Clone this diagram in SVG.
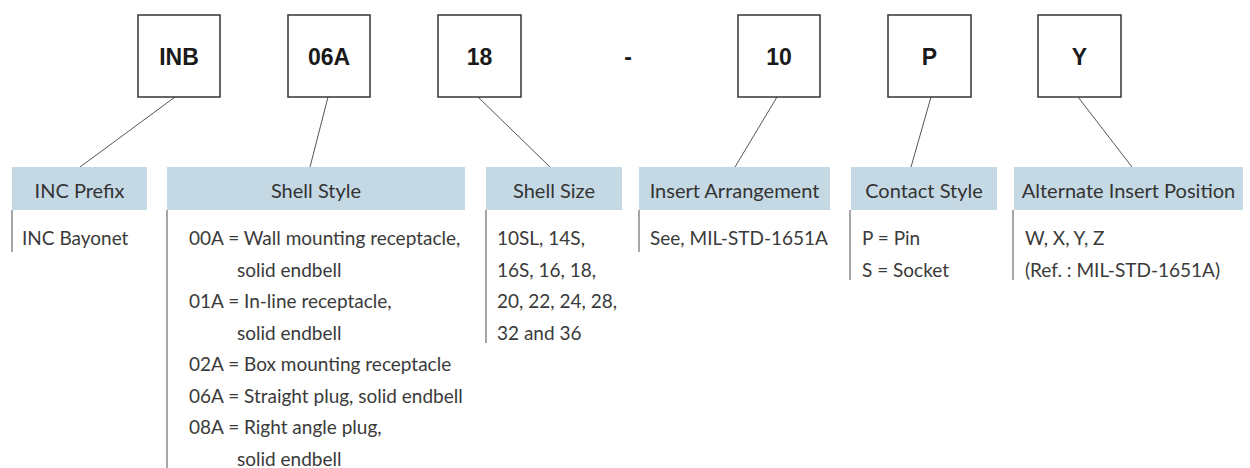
<svg xmlns="http://www.w3.org/2000/svg" width="1250" height="468" viewBox="0 0 1250 468">
<style>
.box{fill:#fff;stroke:#333;stroke-width:1.5}
.code{font-family:"Liberation Sans",Arial,sans-serif;font-weight:bold;font-size:23px;fill:#1a1a1a;text-anchor:middle}
.hdr{fill:#c5d9e5}
.ht{font-family:Lato,"Open Sans",sans-serif;font-size:20px;fill:#333;text-anchor:middle}
.bt{font-family:Lato,"Open Sans",sans-serif;font-size:19px;fill:#3a3a3a}
.bar{stroke:#888;stroke-width:1.5}
.conn line{stroke:#555;stroke-width:1}
</style>
<rect width="1250" height="468" fill="#fff"/>
<g class="conn">
<line x1="175" y1="97" x2="80" y2="167"/>
<line x1="328" y1="97" x2="310" y2="167"/>
<line x1="478" y1="97" x2="550" y2="167"/>
<line x1="777" y1="97" x2="735" y2="167"/>
<line x1="931" y1="97" x2="911" y2="167"/>
<line x1="1078" y1="97" x2="1132" y2="167"/>
</g>
<g id="box-inb"><rect class="box" x="138" y="15" width="82" height="82"/><text class="code" x="179" y="65">INB</text></g>
<g id="box-06a"><rect class="box" x="288" y="15" width="82" height="82"/><text class="code" x="329" y="65">06A</text></g>
<g id="box-18"><rect class="box" x="438" y="15" width="83" height="82"/><text class="code" x="479.5" y="65">18</text></g>
<g id="dash"><text class="code" x="628" y="65">-</text></g>
<g id="box-10"><rect class="box" x="738" y="15" width="82" height="82"/><text class="code" x="779" y="65">10</text></g>
<g id="box-p"><rect class="box" x="888" y="15" width="83" height="82"/><text class="code" x="929.5" y="65">P</text></g>
<g id="box-y"><rect class="box" x="1038" y="15" width="83" height="82"/><text class="code" x="1079.5" y="65">Y</text></g>

<g id="col-prefix">
<rect class="hdr" x="12" y="167" width="135" height="43"/>
<text class="ht" x="79.5" y="198">INC Prefix</text>
<line class="bar" x1="12" y1="210" x2="12" y2="252"/>
<text class="bt" x="22" y="245">INC Bayonet</text>
</g>
<g id="col-shellstyle">
<rect class="hdr" x="167" y="167" width="298" height="43"/>
<text class="ht" x="316" y="198">Shell Style</text>
<line class="bar" x1="167" y1="210" x2="167" y2="468"/>
<text class="bt" x="189" y="245">00A = Wall mounting receptacle,</text>
<text class="bt" x="237" y="276.5">solid endbell</text>
<text class="bt" x="189" y="308">01A = In-line receptacle,</text>
<text class="bt" x="237" y="339.5">solid endbell</text>
<text class="bt" x="189" y="371">02A = Box mounting receptacle</text>
<text class="bt" x="189" y="402.5">06A = Straight plug, solid endbell</text>
<text class="bt" x="189" y="434">08A = Right angle plug,</text>
<text class="bt" x="237" y="465.5">solid endbell</text>
</g>
<g id="col-shellsize">
<rect class="hdr" x="486" y="167" width="136" height="43"/>
<text class="ht" x="554" y="198">Shell Size</text>
<line class="bar" x1="486" y1="210" x2="486" y2="343"/>
<text class="bt" x="497" y="245">10SL, 14S,</text>
<text class="bt" x="497" y="276.5">16S, 16, 18,</text>
<text class="bt" x="497" y="308">20, 22, 24, 28,</text>
<text class="bt" x="497" y="339.5">32 and 36</text>
</g>
<g id="col-insert">
<rect class="hdr" x="639" y="167" width="191" height="43"/>
<text class="ht" x="734.5" y="198">Insert Arrangement</text>
<line class="bar" x1="639" y1="210" x2="639" y2="252"/>
<text class="bt" x="650" y="245">See, MIL-STD-1651A</text>
</g>
<g id="col-contact">
<rect class="hdr" x="851" y="167" width="146" height="43"/>
<text class="ht" x="924" y="198">Contact Style</text>
<line class="bar" x1="850" y1="210" x2="850" y2="280"/>
<text class="bt" x="862" y="245">P = Pin</text>
<text class="bt" x="862" y="276.5">S = Socket</text>
</g>
<g id="col-alt">
<rect class="hdr" x="1014" y="167" width="229" height="43"/>
<text class="ht" x="1128.5" y="198">Alternate Insert Position</text>
<line class="bar" x1="1013" y1="210" x2="1013" y2="280"/>
<text class="bt" x="1025" y="245">W, X, Y, Z</text>
<text class="bt" x="1025" y="276.5">(Ref. : MIL-STD-1651A)</text>
</g>
</svg>
